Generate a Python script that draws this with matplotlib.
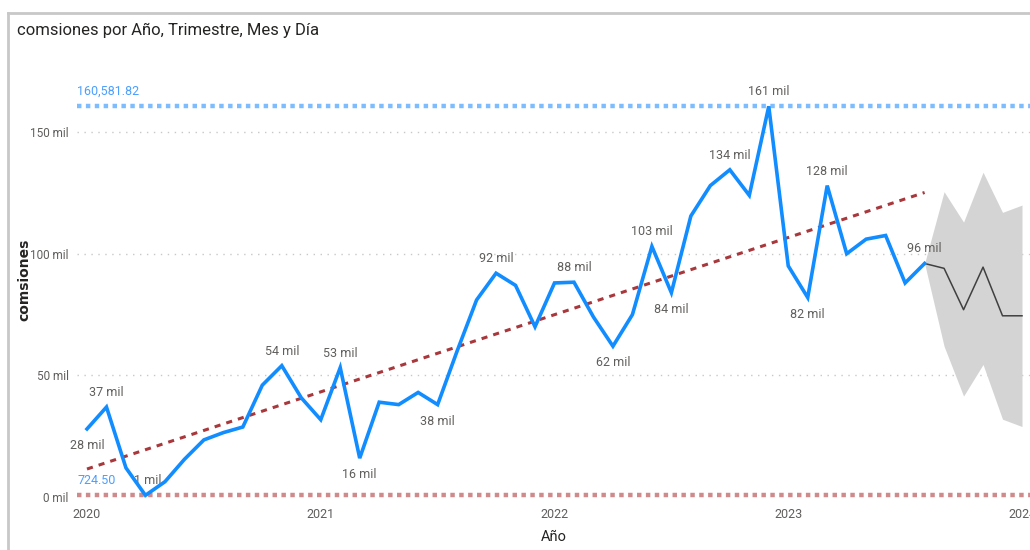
#!/usr/bin/env python3
"""
comsiones por Año, Trimestre, Mes y Día - line chart with trend, forecast and min/max lines
"""
import numpy as np
import matplotlib
matplotlib.use("Agg")
import matplotlib.pyplot as plt

# monthly values, Jan 2020 - Aug 2023 (thousands)
comisiones = [28, 37, 12, 0.7245, 6.3, 15.5, 23.5, 26.5, 28.8, 46, 54, 40.8,
              31.8, 53.2, 16, 39, 38, 43, 38, 60, 81, 92, 87, 70,
              88, 88.3, 74, 62, 75, 103, 84, 115.5, 128, 134.5, 124, 160.58182,
              95, 82, 128, 100, 106, 107.5, 88, 96]
# forecast, Aug 2023 - Jan 2024
pronostico = [96, 94, 77, 94.5, 74.5, 74.5]
pron_sup = [96, 125.5, 113, 133.5, 117, 120]
pron_inf = [96, 62, 41.5, 54.5, 32, 29]
anios = ["2020", "2021", "2022", "2023", "2024"]
# labelled points: (month index, text, above?)
etiquetas = [(0, "28 mil", False), (1, "37 mil", True), (3, "1 mil", True),
             (10, "54 mil", True), (13, "53 mil", True), (14, "16 mil", False),
             (18, "38 mil", False), (21, "92 mil", True), (25, "88 mil", True),
             (27, "62 mil", False), (29, "103 mil", True), (30, "84 mil", False),
             (33, "134 mil", True), (35, "161 mil", True), (38, "128 mil", True),
             (37, "82 mil", False), (43, "96 mil", True)]

plt.rcParams["font.family"] = ["Roboto", "DejaVu Sans"]

fig = plt.figure(figsize=(10.3, 5.5), dpi=100)
W, H = 1030, 550
ax = fig.add_axes([77 / W, (H - 500) / H, (W - 77) / W, 420 / H])

x = np.arange(len(comisiones))
xf = np.arange(len(comisiones) - 1, len(comisiones) - 1 + len(pronostico))

# grid
for v in [50, 100, 150]:
    ax.axhline(v, color="#c8c8c8", lw=1, ls=(0, (1, 4)), zorder=0)

# min / max reference lines
vmax, vmin = max(comisiones), min(comisiones)
ax.axhline(vmax, color="#7dbcff", lw=3.2, ls=(0, (1, 1)), zorder=1)
ax.axhline(vmin, color="#cf8a8c", lw=3.2, ls=(0, (1, 1)), zorder=1)
ax.text(-0.5, vmax + 3.5, "{:,.2f}".format(vmax * 1000), color="#4a9fff",
        fontsize=9, ha="left", va="bottom")
ax.text(-0.5, vmin + 3.5, "{:,.2f}".format(vmin * 1000), color="#4a9fff",
        fontsize=9, ha="left", va="bottom")

# forecast band and line
ax.fill_between(xf, pron_inf, pron_sup, color="#d4d4d4", lw=0, zorder=1)
ax.plot(xf, pronostico, color="#404040", lw=1.1, zorder=2)

# trend line (least squares)
m, b = np.polyfit(x, comisiones, 1)
ax.plot(x, m * x + b, color="#a8383c", lw=2.2, ls=(0, (2, 2)), zorder=3)

# main series
ax.plot(x, comisiones, color="#118dff", lw=2.6, zorder=4,
        solid_joinstyle="miter")

for i, txt, arriba in etiquetas:
    dy = 8 if arriba else -10
    dx = 0
    if txt == "1 mil":
        dx = 2
    ax.annotate(txt, (x[i], comisiones[i]), xytext=(dx, dy),
                textcoords="offset pixels", ha="center",
                va="bottom" if arriba else "top",
                color="#605e5c", fontsize=9)

ax.set_xlim(-10 / 19.48, 48 + 8 / 19.48)
ax.set_ylim(-1.2, 171.4)
ax.set_xticks([0, 12, 24, 36, 48])
ax.set_xticklabels(anios)
ax.set_yticks([0, 50, 100, 150])
ax.set_yticklabels(["0 mil", "50 mil", "100 mil", "150 mil"])
ax.tick_params(length=0, colors="#605e5c", labelsize=9)
ax.tick_params(axis="y", pad=6, labelsize=8.5)
ax.tick_params(axis="x", pad=6)
for s in ax.spines.values():
    s.set_visible(False)

ax.set_xlabel("Año", color="#252423", fontsize=10.5, labelpad=6)
fig.text(24 / W, 1 - 280 / H, "comsiones", rotation=90, ha="center",
         va="center", fontsize=10, fontweight="bold", color="#252423",
         family="DejaVu Sans")

# visual border and title
fig.add_artist(plt.Line2D([8 / W, 8 / W], [0, 1 - 13 / H], color="#c8c8c8", lw=2))
fig.add_artist(plt.Line2D([8 / W, 1], [1 - 13 / H, 1 - 13 / H], color="#c8c8c8", lw=2))
fig.text(17 / W, 1 - 30 / H, "comsiones por Año, Trimestre, Mes y Día",
         fontsize=12, color="#252423", va="center", ha="left")

plt.savefig("out.png", dpi=100)
